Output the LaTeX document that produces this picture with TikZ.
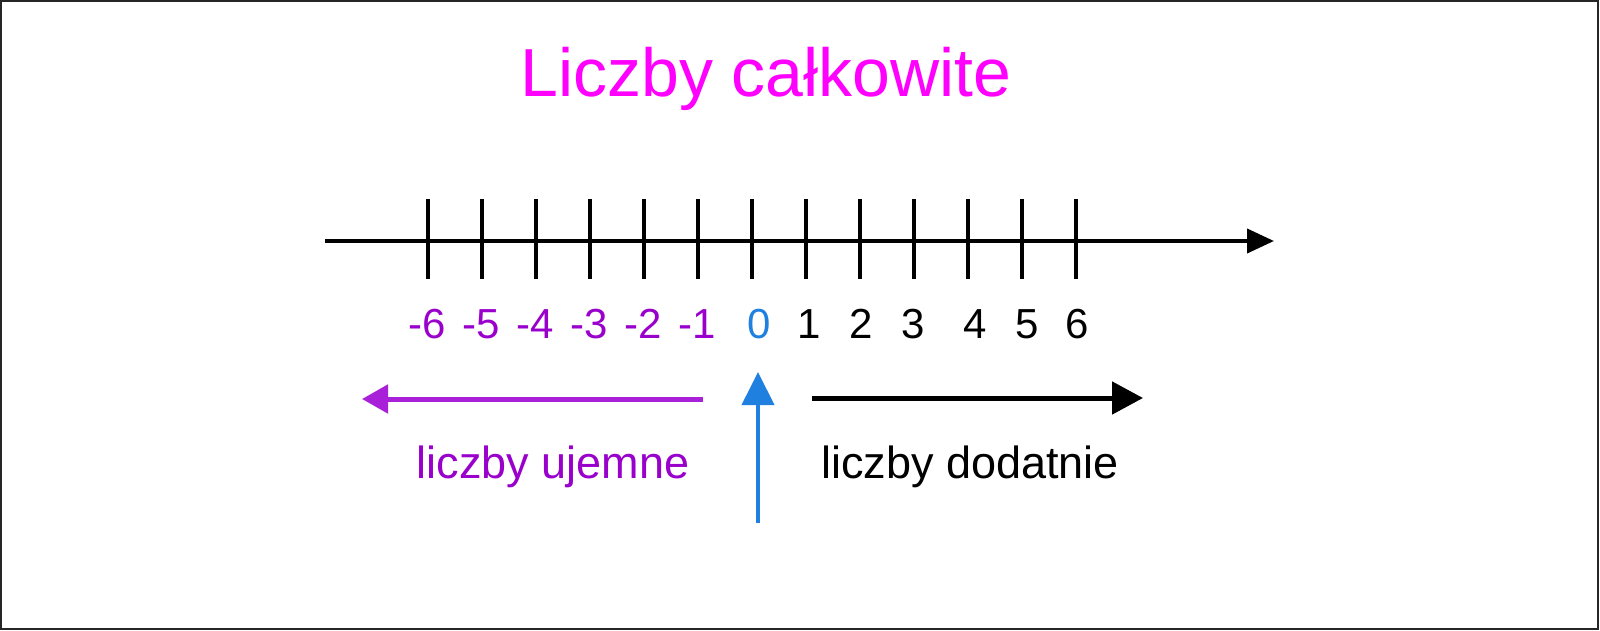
\documentclass[tikz,border=0pt]{standalone}
\usepackage{fontspec}
\setmainfont{Liberation Sans}
\usetikzlibrary{arrows.meta}
\definecolor{titlemag}{HTML}{FF00FF}
\definecolor{negtext}{HTML}{9900CC}
\definecolor{negarrow}{HTML}{A820D8}
\definecolor{zeroblue}{HTML}{2080E0}
\tikzset{
  axisline/.style={line width=4pt, black},
  tickline/.style={line width=4pt, black},
  numlabel/.style={anchor=base, inner sep=0pt, font=\fontsize{42}{50}\selectfont},
  wordlabel/.style={anchor=base, inner sep=0pt, font=\fontsize{45}{54}\selectfont},
}
\begin{document}
\begin{tikzpicture}[x=1pt,y=-1pt]
\useasboundingbox (0,0) rectangle (1600,631);
\draw[line width=2pt, black!85] (1,1) rectangle (1598,629);
\node[anchor=base, inner sep=0pt, text=titlemag, font=\fontsize{68}{82}\selectfont] (title) at (766,97) {Liczby całkowite};
% axis
\coordinate (axL) at (325,241);
\coordinate (axR) at (1274,241);
\draw[axisline, -{Triangle[length=27pt,width=24pt]}] (axL) -- (axR);
\foreach \i [count=\k from 0] in {-6,...,6} {
  \coordinate (t\k top) at ({428+54*\k},199);
  \coordinate (t\k bot) at ({428+54*\k},279);
  \draw[tickline] (t\k top) -- (t\k bot);
}
\foreach \i [count=\k from 0] in {-6,...,-1} {
  \node[numlabel, text=negtext] (n\k) at ({427+54*\k},338) {\i};
}
\node[numlabel, text=zeroblue] (n6) at (759,338) {0};
\node[numlabel] (p1) at (809,338) {1};
\node[numlabel] (p2) at (861,338) {2};
\node[numlabel] (p3) at (913,338) {3};
\node[numlabel] (p4) at (975,338) {4};
\node[numlabel] (p5) at (1027,338) {5};
\node[numlabel] (p6) at (1077,338) {6};
% direction arrows
\coordinate (negS) at (703,399);
\coordinate (negE) at (362,399);
\draw[line width=5pt, negarrow, -{Triangle[length=26pt,width=28pt]}] (negS) -- (negE);
\coordinate (posS) at (812,398);
\coordinate (posE) at (1143,398);
\draw[line width=5pt, black, -{Triangle[length=31pt,width=32pt]}] (posS) -- (posE);
\coordinate (zeroS) at (758,523);
\coordinate (zeroE) at (758,372);
\draw[line width=4pt, zeroblue, -{Triangle[length=33pt,width=32pt]}] (zeroS) -- (zeroE);
\node[wordlabel, text=negtext] (neg) at (553,478) {liczby ujemne};
\node[wordlabel] (pos) at (970,478) {liczby dodatnie};
\end{tikzpicture}
\end{document}
